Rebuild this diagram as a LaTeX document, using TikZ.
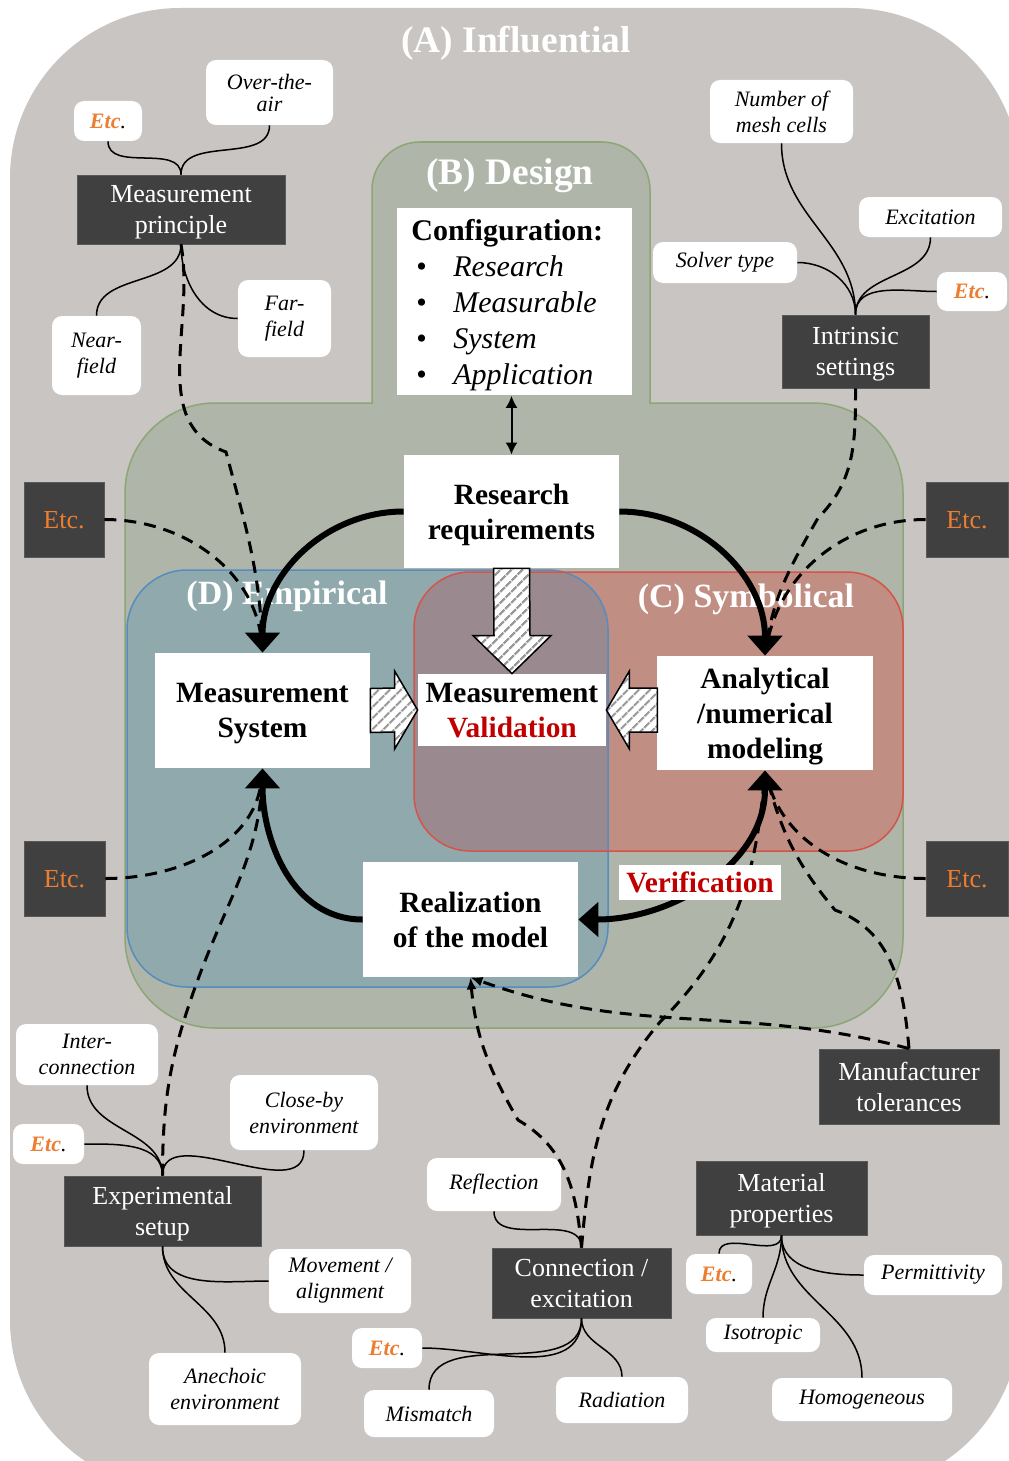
\documentclass[tikz,border=0pt]{standalone}
\usepackage{fontspec}
\setmainfont{Liberation Serif}
\usetikzlibrary{arrows.meta,positioning,calc,patterns.meta}

\definecolor{influgray}{RGB}{200,197,195}
\definecolor{designfill}{RGB}{175,181,168}
\definecolor{designline}{RGB}{140,166,118}
\definecolor{empfill}{RGB}{143,169,173}
\definecolor{empline}{RGB}{86,140,190}
\definecolor{symfill}{RGB}{192,142,131}
\definecolor{symline}{RGB}{212,84,74}
\definecolor{overlapfill}{RGB}{154,137,143}
\definecolor{boxgray}{RGB}{64,64,64}
\definecolor{etcorange}{RGB}{237,125,49}
\definecolor{valred}{RGB}{192,0,0}

\newcommand{\etcmark}{\textcolor{etcorange}{\textbf{Etc}}.}
\newcommand{\cfgitem}[1]{\hspace*{2.5pt}\makebox[18.5pt][l]{\textbullet}\textit{#1}}

\begin{document}
\begin{tikzpicture}[
			x=0.5pt, y=-0.5pt,
			>=Latex,
			darkbox/.style={
				fill=boxgray,
				draw=gray!70!black,
				line width=0.4pt,
				text=white,
				align=center,
				inner sep=0pt,
				text depth=0pt,
				font=\fontsize{13}{15.5}\selectfont
			},
			leaf/.style={
				fill=white,
				rounded corners=5pt,
				align=center,
				inner sep=0pt,
				font=\fontsize{11}{13}\selectfont\itshape
			},
			core/.style={
				fill=white,
				align=center,
				inner sep=0pt,
				text depth=0pt,
				font=\fontsize{14.7}{17.5}\selectfont\bfseries
			},
			regtitle/.style={
				text=white,
				font=\fontsize{18.7}{22}\selectfont\bfseries
			},
			twig/.style={line width=0.75pt},
			dashlink/.style={
				line width=1.5pt,
				dash pattern=on 6pt off 4pt,
				-{Latex[length=6pt,width=5pt]}
			},
			flow/.style={
				line width=3pt,
				-{Triangle[length=10pt,width=17pt]}
			},
			hatch/.style={
				draw,
				line width=0.75pt,
				preaction={fill=white},
				pattern={Lines[angle=45,distance=4pt,line width=1.2pt]},
				pattern color=gray!80
			}
			]
			
			\useasboundingbox (0,0) rectangle (1008,1461);
			
			% Regions
			\fill[influgray,rounded corners=85pt] (10,8) rectangle (1020,1490);
			\fill[designfill,rounded corners=45pt] (125,403) rectangle (903,1028);
			\fill[designfill,rounded corners=24pt] (372,142) rectangle (650,460);
			\draw[designline,line width=0.75pt,rounded corners=24pt] (372,404) -- (372,142) -- (650,142) -- (650,404);
			\draw[designline,line width=0.75pt,rounded corners=45pt] (372,403) -- (125,403) -- (125,1028) -- (903,1028) -- (903,403) -- (650,403);
			\fill[empfill,rounded corners=30pt] (127,570) rectangle (608,987);
			\fill[symfill,rounded corners=28pt] (414,572) rectangle (903,851);
			\begin{scope}
				\clip[rounded corners=30pt] (127,570) rectangle (608,987);
				\fill[overlapfill,rounded corners=28pt] (414,572) rectangle (903,851);
			\end{scope}
			\draw[empline,line width=0.75pt,rounded corners=30pt] (127,570) rectangle (608,987);
			\draw[symline,line width=0.75pt,rounded corners=28pt] (414,572) rectangle (903,851);
			
			% Region titles
			\node[regtitle] (tinflu) at (516,43) {(A) Influential};
			\node[regtitle] (tdesign) at (510,176) {(B) Design};
			\node[regtitle,font=\fontsize{17}{20}\selectfont\bfseries] (temp) at (287,596) {(D) Empirical};
			\node[regtitle,font=\fontsize{17}{20}\selectfont\bfseries] (tsym) at (746,599) {(C) Symbolical};
			
			% Core
			\node[fill=white,anchor=north west,align=left,text width=103.5pt,inner xsep=7pt,inner ysep=0pt,
				minimum height=93.5pt,font=\fontsize{15}{18}\selectfont] (config) at (397,208)
			{\rule{0pt}{14pt}\textbf{Configuration:}\\\cfgitem{Research}\\\cfgitem{Measurable}\\\cfgitem{System}\\\cfgitem{Application}};
			\node[core,minimum width=107.5pt,minimum height=56.5pt] (req) at (511.5,511.5) {Research\\requirements};
			\node[core,minimum width=107.5pt,minimum height=57.5pt] (msys) at (262.5,710.5) {Measurement\\System};
			\node[core,minimum width=94pt,minimum height=36pt] (val) at (512,710) {Measurement\\\textcolor{valred}{Validation}};
			\node[core,minimum width=108pt,minimum height=57pt] (ana) at (765,713) {Analytical\\/numerical\\modeling};
			\node[core,minimum width=107.5pt,minimum height=57.5pt] (real) at (470.5,919.5) {Realization\\of the model};
			
			% Influences
			\node[darkbox,minimum width=104pt,minimum height=34.5pt] (mprin) at (181,209.5) {Measurement\\principle};
			\node[darkbox,minimum width=73.5pt,minimum height=36.5pt] (intr) at (855.5,351.5) {Intrinsic\\settings};
			\node[darkbox,minimum width=98.5pt,minimum height=35pt] (expset) at (162.5,1211) {Experimental\\setup};
			\node[darkbox,minimum width=89.5pt,minimum height=35pt] (conn) at (581.5,1283) {Connection /\\excitation};
			\node[darkbox,minimum width=85.5pt,minimum height=37pt] (matprop) at (781.5,1198) {Material\\properties};
			\node[darkbox,minimum width=90pt,minimum height=37.5pt] (manuf) at (909,1086.5) {Manufacturer\\tolerances};
			\node[darkbox,text=etcorange,minimum width=40pt,minimum height=37.5pt] (etcLT) at (64,519.5) {Etc.};
			\node[darkbox,text=etcorange,minimum width=40.5pt,minimum height=37.5pt] (etcLB) at (64.5,878.5) {Etc.};
			\node[darkbox,text=etcorange,minimum width=41pt,minimum height=37.5pt] (etcRT) at (967,519.5) {Etc.};
			\node[darkbox,text=etcorange,minimum width=41pt,minimum height=37.5pt] (etcRB) at (967,878.5) {Etc.};
			
			% Leaves
			\node[leaf,minimum width=34pt,minimum height=20pt] (lEtcMP) at (108,121) {\etcmark};
			\node[leaf,minimum width=63.5pt,minimum height=32.5pt,font=\fontsize{11}{11}\selectfont\itshape] (lOta) at (269.5,92.5) {Over-the-\\air};
			\node[leaf,minimum width=44.5pt,minimum height=39.5pt] (lNear) at (96.5,355.5) {Near-\\field};
			\node[leaf,minimum width=46.5pt,minimum height=38.5pt] (lFar) at (284.5,318.5) {Far-\\field};
			\node[leaf,minimum width=71.5pt,minimum height=31.5pt] (lMesh) at (781.5,111.5) {Number of\\mesh cells};
			\node[leaf,minimum width=71.5pt,minimum height=20pt] (lExc) at (930.5,217) {Excitation};
			\node[leaf,minimum width=72pt,minimum height=20.5pt] (lSolver) at (725,262.5) {Solver type};
			\node[leaf,minimum width=35pt,minimum height=19.5pt] (lEtcIS) at (972,291.5) {\etcmark};
			\node[leaf,minimum width=71pt,minimum height=30.5pt] (lInter) at (87,1054.5) {Inter-\\connection};
			\node[leaf,minimum width=35.5pt,minimum height=20pt] (lEtcES) at (48.5,1144) {\etcmark};
			\node[leaf,minimum width=74pt,minimum height=37.5pt] (lClose) at (304,1112.5) {Close-by\\environment};
			\node[leaf,minimum width=71pt,minimum height=32pt] (lMove) at (340,1281) {Movement /\\alignment};
			\node[leaf,minimum width=76pt,minimum height=36pt] (lAnech) at (225,1389) {Anechoic\\environment};
			\node[leaf,minimum width=67pt,minimum height=26.5pt] (lRefl) at (494,1184.5) {Reflection};
			\node[leaf,minimum width=35pt,minimum height=20pt] (lEtcCE) at (387,1348) {\etcmark};
			\node[leaf,minimum width=65pt,minimum height=23.5pt] (lMism) at (429,1413.5) {Mismatch};
			\node[leaf,minimum width=66pt,minimum height=23pt] (lRad) at (622,1400) {Radiation};
			\node[leaf,minimum width=33pt,minimum height=20pt] (lEtcMat) at (719,1274) {\etcmark};
			\node[leaf,minimum width=69pt,minimum height=20pt] (lPerm) at (933,1275) {Permittivity};
			\node[leaf,minimum width=57pt,minimum height=17pt] (lIso) at (763,1335) {Isotropic};
			\node[leaf,minimum width=90pt,minimum height=21.5pt] (lHomo) at (862,1399.5) {Homogeneous};
			
			% Leaf lines
			\draw[twig] (mprin.north) to[out=90,in=-90] (lEtcMP.south);
			\draw[twig] (mprin.north) to[out=90,in=-90] (lOta.south);
			\draw[twig] (mprin.south) to[out=-90,in=90] (lNear.north);
			\draw[twig] (mprin.south) to[out=-90,in=180] (lFar.west);
			\draw[twig] (intr.north) to[out=90,in=-90] (lMesh.south);
			\draw[twig] (intr.north) to[out=90,in=0] (lSolver.east);
			\draw[twig] (intr.north) to[out=90,in=-90] (lExc.south);
			\draw[twig] (intr.north) to[out=90,in=180] (lEtcIS.west);
			\draw[twig] (expset.north) to[out=90,in=-90] (lInter.south);
			\draw[twig] (expset.north) to[out=90,in=0] (lEtcES.east);
			\draw[twig] (expset.north) to[out=90,in=-90] (lClose.south);
			\draw[twig] (expset.south) to[out=-90,in=180] (lMove.west);
			\draw[twig] (expset.south) to[out=-90,in=90] (lAnech.north);
			\draw[twig] (conn.north) to[out=90,in=-90] (lRefl.south);
			\draw[twig] (conn.south) to[out=-90,in=0] (lEtcCE.east);
			\draw[twig] (conn.south) to[out=-90,in=90] (lMism.north);
			\draw[twig] (conn.south) to[out=-90,in=90] (lRad.north);
			\draw[twig] (matprop.south) to[out=-90,in=90] (lEtcMat.north);
			\draw[twig] (matprop.south) to[out=-90,in=180] (lPerm.west);
			\draw[twig] (matprop.south) to[out=-90,in=90] (lIso.north);
			\draw[twig] (matprop.south) to[out=-90,in=90] (lHomo.north);
			
			% Dashed influences
			\draw[dashlink] (mprin.south) to[out=-80,in=160] (226,452) to[out=-75,in=92] (msys.north);
			\draw[dashlink] (etcLT.east) to[out=0,in=95] (msys.north);
			\draw[dashlink] (etcLB.east) to[out=0,in=-95] (msys.south);
			\draw[dashlink] (expset.north) to[out=90,in=-110] (197,982) to[out=70,in=-92] (msys.south);
			\draw[dashlink] (intr.south) to[out=-90,in=45] (818,518) to[out=-120,in=82] (ana.north);
			\draw[dashlink] (etcRT.west) to[out=180,in=80] (ana.north);
			\draw[dashlink] (etcRB.west) to[out=180,in=-75] (ana.south);
			\draw[dashlink] (manuf.north) to[out=95,in=-20] (835,910) to[out=130,in=-75] (ana.south);
			\draw[dashlink] (manuf.north) to[out=165,in=-20] (real.south);
			\draw[dashlink] (conn.north) to[out=95,in=-30] (518,1120) to[out=120,in=-85] (real.south);
			\draw[dashlink] (conn.north) to[out=85,in=-130] (660,1022) to[out=45,in=-95] (ana.south);
			
			% Main flow
			\draw[line width=1pt,{Latex[length=6pt,width=6pt]}-{Latex[length=6pt,width=6pt]}] (req.north |- config.south) -- (req.north);
			\draw[flow] (req.west) to[out=180,in=90] (msys.north);
			\draw[flow] (req.east) to[out=0,in=90] (ana.north);
			\draw[flow] (real.west) to[out=180,in=-90] (msys.south);
			\draw[flow,{Triangle[length=10pt,width=17pt]}-{Triangle[length=10pt,width=17pt]}] (ana.south) to[out=-90,in=0] (real.east);
			\node[core,text=valred,minimum width=81pt,minimum height=17.5pt] (verif) at (700,882.5) {Verification};
			
			% Hatched arrows into validation
			\draw[hatch] ($(req.south)+(-18,0)$) -- ($(req.south)+(18,0)$) -- ($(val.north)+(18,-38)$) -- ($(val.north)+(39,-38)$)
				-- (val.north) -- ($(val.north)+(-39,-38)$) -- ($(val.north)+(-18,-38)$) -- cycle;
			\draw[hatch] ($(msys.east)+(0,-22)$) -- ($(val.west)+(-23,-22)$) -- ($(val.west)+(-23,-39)$) -- (val.west)
				-- ($(val.west)+(-23,39)$) -- ($(val.west)+(-23,22)$) -- ($(msys.east)+(0,22)$) -- cycle;
			\draw[hatch] ($(val.east)+(51,-22)$) -- ($(val.east)+(23,-22)$) -- ($(val.east)+(23,-39)$) -- (val.east)
				-- ($(val.east)+(23,39)$) -- ($(val.east)+(23,22)$) -- ($(val.east)+(51,22)$) -- cycle;
			
		\end{tikzpicture}
\end{document}
